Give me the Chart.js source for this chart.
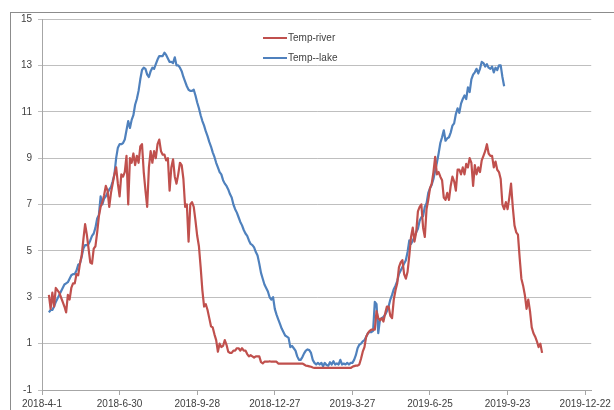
<!DOCTYPE html>
<html>
<head>
<meta charset="utf-8">
<script src="https://cdn.jsdelivr.net/npm/chart.js@4"></script>
<style>
  html, body { margin: 0; padding: 0; background: #fff; }
  canvas { display: block; }
</style>
</head>
<body>
<canvas id="chart" width="614" height="410"></canvas>
<script>
// days are counted from 2018-4-1, one reading every 2 days
var firstDay = 8;
var stepDays = 2;

// one x label every 90 days
var xTickLabels = ['2018-4-1', '2018-6-30', '2018-9-28', '2018-12-27',
                   '2019-3-27', '2019-6-25', '2019-9-23', '2019-12-22'];
var xTickStep = 90;
var yTicks = [-1, 1, 3, 5, 7, 9, 11, 13, 15];

var riverTemps = [
  3.1, 2.5, 3.2, 2.6, 3.4, 3.3, 3.2, 3.0, 2.8, 2.6,
  2.35, 3.1, 2.9, 3.4, 3.6, 3.6, 4.0, 3.95, 4.45, 4.8,
  5.5, 6.15, 5.7, 5.1, 4.5, 4.45, 5.1, 5.2, 5.8, 6.5,
  6.9, 7.1, 7.4, 7.8, 7.6, 6.9, 7.5, 7.9, 8.3, 8.6,
  7.9, 7.35, 8.3, 8.2, 8.4, 9.1, 7.0, 9.0, 8.8, 9.2,
  8.7, 9.1, 8.8, 9.5, 9.6, 8.4, 7.6, 6.9, 8.6, 9.3,
  8.8, 9.3, 9.0, 9.6, 9.8, 9.3, 9.15, 9.15, 8.9, 9.0,
  7.6, 8.6, 8.95, 8.2, 7.9, 8.3, 8.8, 8.7, 8.1, 6.9,
  7.0, 5.4, 7.0, 7.1, 6.9, 6.3, 5.65, 5.2, 4.3, 3.3,
  2.6, 2.7, 2.45, 2.1, 1.75, 1.7, 1.4, 1.15, 0.65, 1.0,
  0.85, 0.9, 1.15, 0.95, 0.65, 0.6, 0.6, 0.7, 0.7, 0.8,
  0.8, 0.7, 0.8, 0.7, 0.7, 0.55, 0.45, 0.5, 0.45, 0.4,
  0.45, 0.45, 0.45, 0.2, 0.15, 0.22, 0.22, 0.22, 0.24, 0.22,
  0.22, 0.22, 0.22, 0.14, 0.14, 0.14, 0.14, 0.14, 0.14, 0.14,
  0.14, 0.14, 0.14, 0.14, 0.14, 0.14, 0.14, 0.14, 0.1, 0.05,
  0.04, 0.02, 0.0, -0.03, -0.05, -0.05, -0.05, -0.05, -0.05, -0.05,
  -0.05, -0.05, -0.05, -0.05, -0.05, -0.05, -0.05, -0.05, -0.05, -0.05,
  -0.05, -0.05, -0.05, -0.05, -0.05, -0.05, 0.0, 0.03, 0.05, 0.05,
  0.1, 0.35, 0.65, 0.85, 1.3, 1.45, 1.55, 1.6, 1.6, 1.6,
  2.4, 2.1, 2.0, 2.1, 1.95, 2.3, 2.6, 2.6, 2.2, 2.1,
  2.9, 3.3, 3.6, 4.3, 4.5, 4.6, 4.0, 3.8, 4.1, 4.8,
  5.6, 6.0, 5.4, 5.8, 6.7, 6.9, 7.0, 6.0, 5.6, 6.8,
  7.2, 7.7, 7.9, 8.4, 9.05, 8.3, 8.4, 8.2, 8.05, 7.3,
  7.2, 7.5, 7.2, 7.8, 8.2, 8.0, 7.6, 8.5, 8.5, 8.3,
  8.6, 8.3, 8.75, 8.6, 9.0, 8.8, 7.8, 8.7, 8.3, 8.6,
  8.4, 8.9, 9.1, 9.3, 9.6, 9.2, 9.1, 9.1, 8.6, 8.85,
  8.5, 8.4, 8.1, 7.0, 6.8, 7.1, 6.8, 7.3, 7.9, 6.9,
  6.1, 5.8, 5.7, 4.7, 3.8, 3.5, 3.1, 2.5, 2.9, 2.4,
  1.7, 1.45, 1.3, 1.1, 0.85, 1.0, 0.6
];

var lakeTemps = [
  2.35, 2.45, 2.45, 2.6, 2.8, 2.95, 3.1, 3.25, 3.4, 3.55,
  3.6, 3.65, 3.8, 3.95, 4.0, 4.0, 4.15, 4.4, 4.45, 4.75,
  5.1, 5.25, 5.25, 5.3, 5.45, 5.65, 5.75, 6.0, 6.4, 6.55,
  7.35, 7.0, 7.25, 7.35, 7.5, 7.65, 7.75, 8.0, 8.3, 9.0,
  9.45, 9.6, 9.6, 9.65, 9.8, 10.2, 10.6, 10.3, 10.65, 10.85,
  11.3, 11.55, 11.9, 12.4, 12.8, 12.9, 12.85, 12.6, 12.5, 12.75,
  12.9, 12.85, 13.05, 13.25, 13.4, 13.4, 13.4, 13.55, 13.45, 13.3,
  13.15, 13.15, 13.1, 13.35, 13.0, 13.0, 12.9, 12.75, 12.5, 12.3,
  12.1, 11.95, 11.9, 11.9, 11.95, 11.7, 11.4, 11.15, 10.85, 10.6,
  10.4, 10.15, 9.95, 9.7, 9.5, 9.25, 9.05, 8.8, 8.6, 8.4,
  8.3, 8.05, 7.9, 7.8, 7.65, 7.45, 7.3, 7.0, 6.8, 6.65,
  6.45, 6.25, 6.1, 5.9, 5.75, 5.65, 5.45, 5.3, 5.25, 5.15,
  4.95, 4.8, 4.45, 4.05, 3.8, 3.55, 3.4, 3.25, 3.0, 2.9,
  3.0, 2.5, 2.25, 2.05, 1.85, 1.65, 1.5, 1.35, 1.3, 1.25,
  0.85, 0.9, 0.8, 0.7, 0.45, 0.3, 0.3, 0.42, 0.58, 0.7,
  0.75, 0.72, 0.6, 0.3, 0.17, 0.1, 0.17, 0.1, 0.17, 0.03,
  0.17, 0.08, 0.05, 0.2, 0.1, 0.24, 0.1, 0.15, 0.1, 0.3,
  0.1, 0.14, 0.1, 0.17, 0.1, 0.17, 0.17, 0.3, 0.5, 0.8,
  0.95, 1.0, 1.1, 1.15, 1.3, 1.45, 1.5, 1.5, 1.55, 2.8,
  2.7, 1.45, 2.05, 2.1, 2.15, 2.25, 2.4, 2.6, 2.9, 3.1,
  3.35, 3.5, 3.7, 4.0, 4.15, 4.3, 4.45, 4.6, 4.95, 5.45,
  5.3, 5.45, 5.6, 5.8, 5.95, 6.3, 6.45, 6.5, 6.9, 7.05,
  7.5, 7.7, 7.85, 8.1, 8.45, 8.8, 9.2, 9.65, 9.9, 10.2,
  9.75, 9.85, 9.9, 10.1, 10.4, 10.5, 10.9, 11.15, 10.95, 11.35,
  11.55, 11.7, 11.55, 12.05, 11.85, 12.4, 12.6, 12.7, 12.85, 12.65,
  12.85, 13.15, 13.1, 12.95, 13.05, 12.9, 12.85, 12.95, 12.7, 12.9,
  12.8, 13.0, 13.0, 12.5, 12.1
];

function toPoints(values) {
  return values.map(function(v, i) {
    return {x: firstDay + i * stepDays, y: v};
  });
}

var textColor = '#404040';
var gridColor = '#bfbfbf';
var axisColor = '#a6a6a6';
var tickFont = {family: 'Liberation Sans', size: 10};

// white page + the outer chart frame (only top/left edges are visible)
var framePlugin = {
  id: 'frame',
  beforeDraw: function(chart) {
    var ctx = chart.ctx;
    ctx.save();
    ctx.fillStyle = '#fff';
    ctx.fillRect(0, 0, chart.width, chart.height);
    ctx.strokeStyle = '#8c8c8c';
    ctx.lineWidth = 1;
    ctx.strokeRect(10.5, 12.5, 1000, 1000);
    ctx.restore();
  }
};

// legend sitting inside the plot, one row per dataset
var insideLegend = {
  id: 'insideLegend',
  afterDraw: function(chart, args, opts) {
    var ctx = chart.ctx;
    ctx.save();
    ctx.font = opts.size + 'px ' + opts.family;
    ctx.textBaseline = 'middle';
    chart.data.datasets.forEach(function(ds, i) {
      var y = opts.y + i * opts.rowGap;
      ctx.strokeStyle = ds.borderColor;
      ctx.lineWidth = 2;
      ctx.beginPath();
      ctx.moveTo(opts.x, y);
      ctx.lineTo(opts.x + opts.lineLen, y);
      ctx.stroke();
      ctx.fillStyle = textColor;
      ctx.fillText(ds.label, opts.x + opts.lineLen + 1, y);
    });
    ctx.restore();
  }
};

var chart = new Chart(document.getElementById('chart'), {
  type: 'line',
  data: {
    datasets: [
      {label: 'Temp-river', data: toPoints(riverTemps), borderColor: '#c0504d'},
      {label: 'Temp--lake', data: toPoints(lakeTemps), borderColor: '#4f81bd'}
    ]
  },
  options: {
    responsive: false,
    animation: false,
    devicePixelRatio: 1,
    layout: {padding: {left: 0, top: 19, right: 21, bottom: 0}},
    elements: {
      line: {borderWidth: 2.2, tension: 0, borderJoinStyle: 'round'},
      point: {radius: 0, hoverRadius: 0}
    },
    plugins: {
      legend: {display: false},
      tooltip: {enabled: false},
      insideLegend: {x: 263, y: 38, rowGap: 20, lineLen: 24, size: 10, family: 'Liberation Sans'}
    },
    scales: {
      x: {
        type: 'linear',
        min: 0,
        max: 637,
        afterBuildTicks: function(s) {
          s.ticks = xTickLabels.map(function(l, i) { return {value: i * xTickStep}; });
        },
        afterFit: function(s) { s.height = 20; },
        ticks: {
          autoSkip: false, maxRotation: 0, padding: 3,
          color: textColor, font: tickFont,
          callback: function(v) { return xTickLabels[Math.round(v / xTickStep)]; }
        },
        grid: {drawOnChartArea: false, tickLength: 5, color: axisColor},
        border: {color: axisColor}
      },
      y: {
        min: yTicks[0],
        max: yTicks[yTicks.length - 1],
        afterFit: function(s) { s.width = 42; },
        ticks: {stepSize: 2, padding: 6, color: textColor, font: tickFont},
        grid: {color: gridColor, tickLength: 4},
        border: {color: axisColor}
      }
    }
  },
  plugins: [framePlugin, insideLegend]
});
</script>
</body>
</html>
